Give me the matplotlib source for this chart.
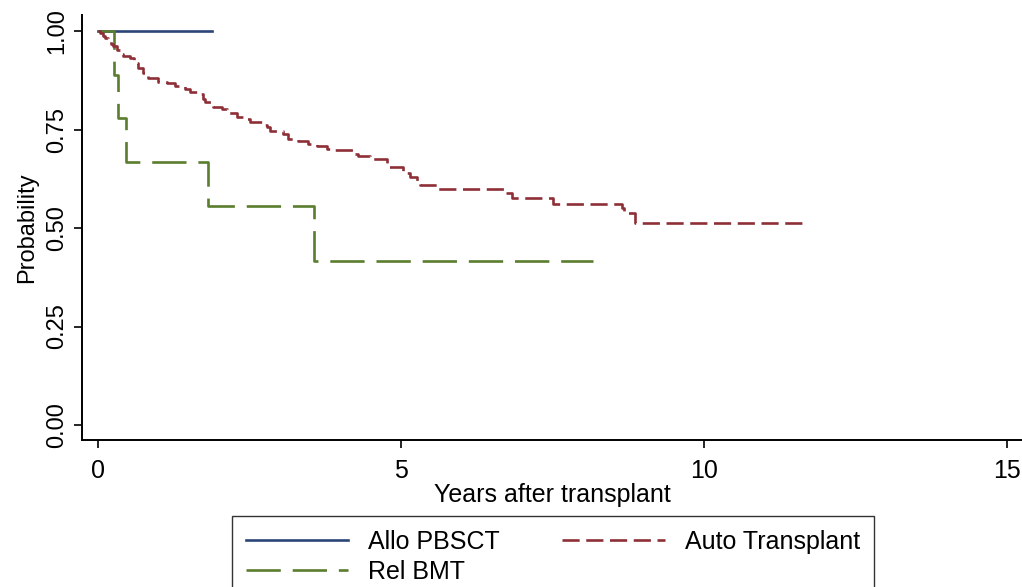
import matplotlib
matplotlib.use("Agg")
import matplotlib.pyplot as plt

plt.rcParams['font.family'] = ['Liberation Sans', 'DejaVu Sans']

# Kaplan-Meier step data (years, survival probability after each event)
allo_t = [0.0, 1.88]
allo_s = [1.0, 1.0]

rel_t = [0.0, 0.27, 0.33, 0.46, 1.82, 3.57, 8.17]
rel_s = [1.0, 0.889, 0.778, 0.667, 0.556, 0.417, 0.417]

auto_t = [0.0, 0.03, 0.08, 0.12, 0.17, 0.21, 0.25, 0.31, 0.36, 0.41, 0.53,
          0.59, 0.66, 0.74, 0.83, 0.99, 1.14, 1.27, 1.44, 1.52, 1.65, 1.73,
          1.77, 1.90, 2.05, 2.13, 2.29, 2.43, 2.51, 2.72, 2.79, 2.84, 3.05,
          3.14, 3.30, 3.47, 3.61, 3.78, 3.91, 4.21, 4.29, 4.49, 4.77, 5.03,
          5.15, 5.26, 5.31, 5.61, 6.72, 6.83, 7.51, 8.65, 8.68, 8.86, 11.70]
auto_s = [1.0, 0.995, 0.987, 0.982, 0.975, 0.967, 0.962, 0.952, 0.942, 0.937,
          0.931, 0.919, 0.906, 0.893, 0.881, 0.871, 0.868, 0.860, 0.853, 0.845,
          0.840, 0.827, 0.820, 0.807, 0.802, 0.792, 0.782, 0.777, 0.769, 0.761,
          0.756, 0.746, 0.739, 0.726, 0.721, 0.713, 0.708, 0.701, 0.698, 0.688,
          0.683, 0.675, 0.655, 0.640, 0.629, 0.619, 0.609, 0.599, 0.589, 0.576,
          0.561, 0.551, 0.538, 0.513, 0.513]

x_ticks = [0, 5, 10, 15]
y_ticks = [0.0, 0.25, 0.5, 0.75, 1.0]
y_ticklabels = ["0.00", "0.25", "0.50", "0.75", "1.00"]

fig = plt.figure(figsize=(10.22, 5.87), dpi=100)
ax = fig.add_axes([0.0802, 0.2504, 0.9198, 0.7240])

lw = 1.9
l_allo, = ax.step(allo_t, allo_s, where='post', color='#2a4577', lw=lw,
                  label='Allo PBSCT')
l_rel, = ax.step(rel_t, rel_s, where='post', color='#5a7d2e', lw=lw,
                 dashes=(13, 4.5), label='Rel BMT')
l_auto, = ax.step(auto_t, auto_s, where='post', color='#8e2f38', lw=lw,
                  dashes=(6.5, 2.5), label='Auto Transplant')

ax.set_xlim(-0.264, 15.25)
ax.set_ylim(-0.038, 1.0406)
ax.set_xticks(x_ticks)
ax.set_yticks(y_ticks)
ax.set_yticklabels(y_ticklabels, rotation=90, va='center')
ax.tick_params(axis='both', direction='out', length=6, width=1.2,
               color='black')
ax.tick_params(axis='x', labelsize=18, pad=8)
ax.tick_params(axis='y', labelsize=17, pad=4)

for side in ['top', 'right']:
    ax.spines[side].set_visible(False)
for side in ['left', 'bottom']:
    ax.spines[side].set_linewidth(1.4)

ax.set_xlabel('Years after transplant', fontsize=18, labelpad=0)
ax.set_ylabel('Probability', fontsize=17, labelpad=6)

leg = fig.legend(handles=[l_allo, l_rel, l_auto], ncol=2,
                 loc='upper center', bbox_to_anchor=(0.541, 0.121),
                 fontsize=18, frameon=True, fancybox=False,
                 edgecolor='black', handlelength=4.1, handletextpad=0.8,
                 columnspacing=2.5, labelspacing=0.25, borderpad=0.55,
                 borderaxespad=0.0)
leg.get_frame().set_linewidth(1.0)

fig.savefig('out.png', dpi=100)
